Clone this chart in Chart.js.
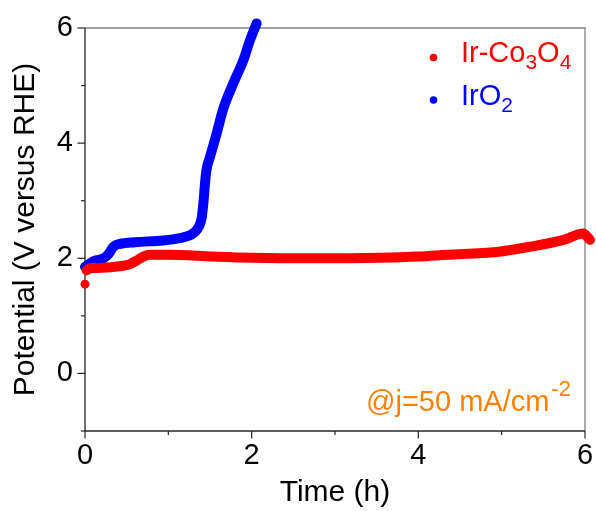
<!DOCTYPE html>
<html>
<head>
<meta charset="utf-8">
<script src="https://cdn.jsdelivr.net/npm/chart.js@4.4.1/dist/chart.umd.min.js"></script>
<style>
  html, body { margin: 0; padding: 0; background: #fff; }
  #wrap { width: 596px; height: 511px; }
</style>
</head>
<body>
<div id="wrap"><canvas id="chart" width="596" height="511"></canvas></div>
<script>
// Chronopotentiometry at 50 mA/cm^2: potential (V vs RHE) against time (h)
const timeIrCo = [0, 0.02, 0.10, 0.34, 0.46, 0.54, 0.62, 0.70, 0.78, 1.00, 1.54, 2.00, 2.74, 3.54, 4.00, 4.34, 4.94, 5.34, 5.74, 5.98, 6.06];
const potIrCo  = [1.55, 1.79, 1.83, 1.85, 1.87, 1.90, 1.96, 2.03, 2.06, 2.06, 2.03, 2.01, 2.00, 2.01, 2.03, 2.06, 2.11, 2.20, 2.32, 2.43, 2.32];

const timeIrO2 = [0, 0.05, 0.10, 0.22, 0.28, 0.34, 0.42, 0.60, 0.94, 1.14, 1.26, 1.32, 1.37, 1.40, 1.42, 1.44, 1.46, 1.50, 1.58, 1.66, 1.78, 1.90, 1.98, 2.06];
const potIrO2  = [1.85, 1.90, 1.95, 2.00, 2.07, 2.20, 2.25, 2.28, 2.31, 2.35, 2.40, 2.46, 2.56, 2.70, 2.95, 3.30, 3.55, 3.76, 4.17, 4.60, 5.04, 5.44, 5.79, 6.08];

const xTickLabels = [0, 2, 4, 6];
const yTickLabels = [0, 2, 4, 6];
const xMinorTicks = [1, 3, 5];
const yMinorTicks = [-1, 1, 3, 5];

const FONT = '"Liberation Sans", Arial, Helvetica, sans-serif';
const RED = '#ff0000';
const BLUE = '#0000ff';
const ORANGE = 'rgb(255,128,0)';

const toPoints = (xs, ys) => xs.map((x, i) => ({ x: x, y: ys[i] }));

// Draws text made of pieces, some raised or lowered (sub/superscripts)
function drawRich(ctx, parts, x, y, color) {
  ctx.save();
  ctx.fillStyle = color;
  ctx.textBaseline = 'alphabetic';
  ctx.textAlign = 'left';
  let cx = x;
  parts.forEach(p => {
    ctx.font = p.size + 'px ' + FONT;
    cx += (p.gap || 0);
    ctx.fillText(p.t, cx, y + (p.dy || 0));
    cx += ctx.measureText(p.t).width;
  });
  ctx.restore();
}

const framePlugin = {
  id: 'frame',
  beforeDatasetsDraw(chart) {
    const { ctx, chartArea: a, scales } = chart;
    ctx.save();
    // top and right edges of the box
    ctx.strokeStyle = '#808080';
    ctx.lineWidth = 1.3;
    ctx.beginPath();
    ctx.moveTo(a.left, a.top);
    ctx.lineTo(a.right, a.top);
    ctx.lineTo(a.right, a.bottom);
    ctx.stroke();
    // left and bottom axes
    ctx.strokeStyle = '#262626';
    ctx.beginPath();
    ctx.moveTo(a.left, a.top);
    ctx.lineTo(a.left, a.bottom);
    ctx.lineTo(a.right, a.bottom);
    ctx.stroke();
    // outward tick marks
    ctx.lineWidth = 1.2;
    xTickLabels.forEach(v => {
      const px = scales.x.getPixelForValue(v);
      ctx.beginPath(); ctx.moveTo(px, a.bottom); ctx.lineTo(px, a.bottom + 7.5); ctx.stroke();
    });
    xMinorTicks.forEach(v => {
      const px = scales.x.getPixelForValue(v);
      ctx.beginPath(); ctx.moveTo(px, a.bottom); ctx.lineTo(px, a.bottom + 4); ctx.stroke();
    });
    yTickLabels.forEach(v => {
      const py = scales.y.getPixelForValue(v);
      ctx.beginPath(); ctx.moveTo(a.left, py); ctx.lineTo(a.left - 7.5, py); ctx.stroke();
    });
    yMinorTicks.forEach(v => {
      const py = scales.y.getPixelForValue(v);
      ctx.beginPath(); ctx.moveTo(a.left, py); ctx.lineTo(a.left - 4, py); ctx.stroke();
    });
    ctx.restore();
  },
  afterDraw(chart) {
    const { ctx } = chart;
    // legend
    ctx.save();
    ctx.fillStyle = RED;
    ctx.beginPath(); ctx.arc(433.5, 57.5, 3.8, 0, Math.PI * 2); ctx.fill();
    ctx.fillStyle = BLUE;
    ctx.beginPath(); ctx.arc(433.5, 100, 3.8, 0, Math.PI * 2); ctx.fill();
    ctx.restore();
    drawRich(ctx, [
      { t: 'Ir-Co', size: 29 },
      { t: '3', size: 21, dy: 7 },
      { t: 'O', size: 29 },
      { t: '4', size: 21, dy: 7 }
    ], 461, 62, RED);
    drawRich(ctx, [
      { t: 'IrO', size: 29 },
      { t: '2', size: 21, dy: 7 }
    ], 461, 105, BLUE);
    // current density note
    drawRich(ctx, [
      { t: '@j=50 mA/cm', size: 29 },
      { t: '-2', size: 22, dy: -15, gap: 2 }
    ], 366, 411, ORANGE);
  }
};

const ctx = document.getElementById('chart').getContext('2d');
new Chart(ctx, {
  type: 'scatter',
  data: {
    datasets: [
      {
        label: 'Ir-Co3O4',
        data: toPoints(timeIrCo, potIrCo),
        showLine: true,
        borderColor: RED,
        backgroundColor: RED,
        borderWidth: 10,
        borderCapStyle: 'round',
        borderJoinStyle: 'round',
        cubicInterpolationMode: 'monotone',
        pointRadius: c => (c.dataIndex === 0 ? 4.5 : 0),
        pointBorderWidth: 0,
        segment: {
          borderColor: c => (c.p0DataIndex === 0 ? 'rgba(0,0,0,0)' : undefined)
        },
        clip: false,
        order: 1
      },
      {
        label: 'IrO2',
        data: toPoints(timeIrO2, potIrO2),
        showLine: true,
        borderColor: BLUE,
        backgroundColor: BLUE,
        borderWidth: 10,
        borderCapStyle: 'round',
        borderJoinStyle: 'round',
        cubicInterpolationMode: 'monotone',
        pointRadius: 0,
        clip: false,
        order: 2
      }
    ]
  },
  options: {
    responsive: false,
    devicePixelRatio: 1,
    animation: false,
    layout: { padding: { left: 0, right: 11, top: 28, bottom: 0 } },
    plugins: {
      legend: { display: false },
      tooltip: { enabled: false }
    },
    scales: {
      x: {
        type: 'linear',
        min: 0,
        max: 6,
        grid: { display: false, drawTicks: false },
        border: { display: false },
        ticks: {
          stepSize: 1,
          autoSkip: false,
          maxRotation: 0,
          padding: 8,
          color: '#000',
          font: { family: FONT, size: 29 },
          callback: v => (xTickLabels.includes(v) ? String(v) : '')
        },
        title: {
          display: true,
          text: 'Time (h)',
          color: '#000',
          font: { family: FONT, size: 30 },
          padding: { top: 0, bottom: 0 }
        },
        afterFit: s => { s.height = 80; s.paddingLeft = 0; s.paddingRight = 0; }
      },
      y: {
        type: 'linear',
        min: -1,
        max: 6,
        grid: { display: false, drawTicks: false },
        border: { display: false },
        ticks: {
          stepSize: 1,
          autoSkip: false,
          padding: 12,
          color: '#000',
          font: { family: FONT, size: 29 },
          callback: v => (yTickLabels.includes(v) ? String(v) : '')
        },
        title: {
          display: true,
          text: 'Potential (V versus RHE)',
          color: '#000',
          font: { family: FONT, size: 30 },
          padding: { top: 8, bottom: 0 }
        },
        afterFit: s => { s.width = 85; s.paddingTop = 0; s.paddingBottom = 0; }
      }
    }
  },
  plugins: [framePlugin]
});
</script>
</body>
</html>
